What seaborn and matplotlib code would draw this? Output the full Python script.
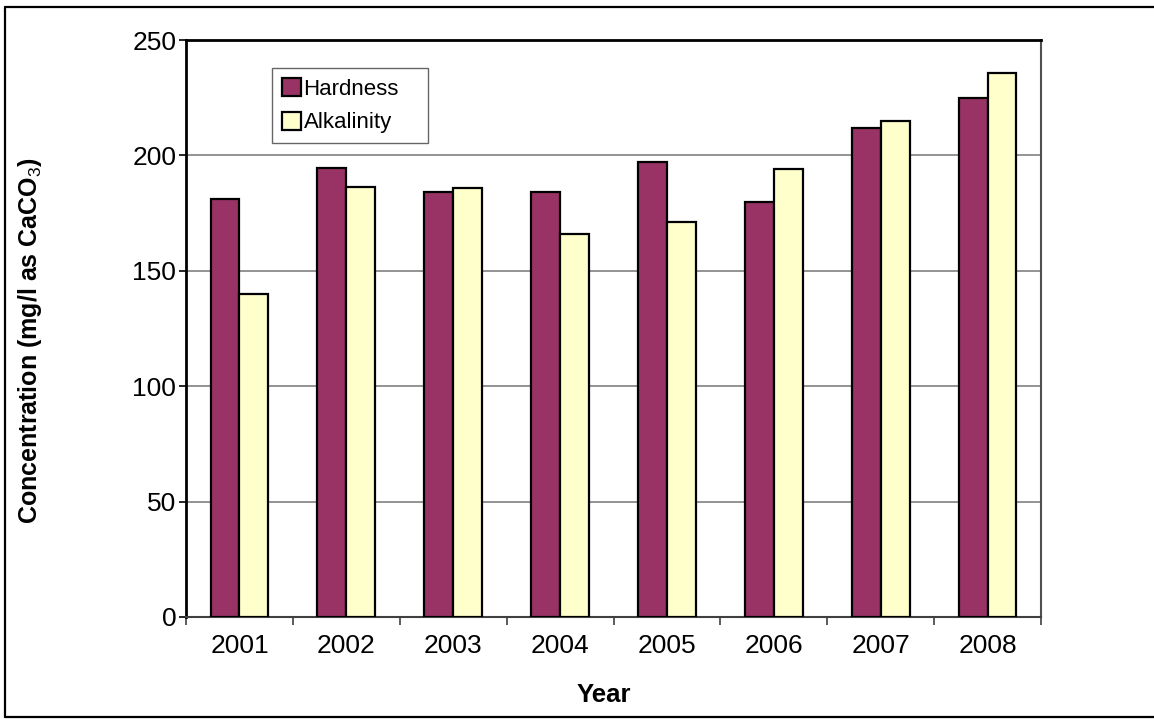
import matplotlib
matplotlib.use("Agg")
import matplotlib.pyplot as plt
from matplotlib.lines import Line2D
from matplotlib.ticker import FixedLocator, NullFormatter
import seaborn as sns
import pandas as pd

years = ["2001", "2002", "2003", "2004", "2005", "2006", "2007", "2008"]
hardness = [181, 194.5, 184, 184, 197, 180, 212, 225]
alkalinity = [140, 186.5, 186, 166, 171, 194, 215, 235.5]
series_names = ["Hardness", "Alkalinity"]
colors = ["#993366", "#FFFFCC"]
y_ticks = [0, 50, 100, 150, 200, 250]

df = pd.DataFrame({
    "Year": years * 2,
    "Value": hardness + alkalinity,
    "Series": [series_names[0]] * len(years) + [series_names[1]] * len(years),
})

sns.set_theme(style="white")
plt.rcParams["font.family"] = ["Liberation Sans", "DejaVu Sans"]
plt.rcParams["text.color"] = "black"
plt.rcParams["mathtext.fontset"] = "custom"
plt.rcParams["mathtext.rm"] = "Liberation Sans"
plt.rcParams["mathtext.bf"] = "Liberation Sans:bold"

fig = plt.figure(figsize=(11.54, 7.19), dpi=100)
ax = fig.add_axes([186 / 1154, 1 - 617 / 719, (1041 - 186) / 1154, (617 - 40) / 719])

sns.barplot(data=df, x="Year", y="Value", hue="Series", palette=colors,
            width=0.54, edgecolor="black", linewidth=1.6, saturation=1,
            ax=ax, zorder=3)

ax.set_xlim(-0.5, len(years) - 0.5)
ax.set_ylim(0, 250)
ax.set_yticks(y_ticks)
ax.set_yticklabels([str(t) for t in y_ticks], fontsize=19)
ax.grid(False)
for t in y_ticks[1:-1]:
    ax.axhline(t, color="#808080", linewidth=1.2, zorder=1)

ax.tick_params(axis="x", which="major", length=0, pad=12, labelsize=19, colors="black")
ax.xaxis.set_minor_locator(FixedLocator([i - 0.5 for i in range(len(years) + 1)]))
ax.xaxis.set_minor_formatter(NullFormatter())
ax.tick_params(axis="x", which="minor", length=6, width=1.2, direction="out", color="#404040", bottom=True)
ax.tick_params(axis="y", length=5, width=1.2, direction="out", color="black", left=True, pad=2, colors="black")

for side in ["left", "top"]:
    ax.spines[side].set_color("black")
    ax.spines[side].set_linewidth(2)
ax.spines["bottom"].set_color("#404040")
ax.spines["bottom"].set_linewidth(1.5)
ax.spines["right"].set_color("#505050")
ax.spines["right"].set_linewidth(1.5)

ax.set_xlabel("Year", fontsize=18.5, fontweight="bold", color="black")
ax.xaxis.set_label_coords((604 - 186) / 855, (617 - 683) / 577)
ax.set_ylabel(r"Concentration (mg/l as CaCO$_3$)", fontsize=18, fontweight="bold", color="black")
ax.yaxis.set_label_coords((44 - 186) / 855, (617 - 340) / 577)

handles, labels = ax.get_legend_handles_labels()
lx0 = (272 - 186) / 855
lw = (428 - 272) / 855
ltop = (617 - 68) / 577
lh = (141 - 68) / 577
leg = ax.legend(handles, labels, loc="upper left",
                bbox_to_anchor=(lx0, ltop - lh, lw, lh), mode="expand",
                fontsize=16, frameon=True, fancybox=False, shadow=False,
                handlelength=0.85, handleheight=0.85, handletextpad=0.12,
                labelspacing=0.55, borderpad=0.45, borderaxespad=0,
                labelcolor="black")
leg.get_frame().set_edgecolor("#404040")
leg.get_frame().set_linewidth(1.0)
leg.set_zorder(5)

# outer frame (left, top, bottom)
fx0 = 5 / 1154
fy_top = 1 - 7 / 719
fy_bot = 1 - 717 / 719
for xs, ys in [([fx0, fx0], [fy_bot, fy_top]), ([fx0, 1.0], [fy_top, fy_top]), ([fx0, 1.0], [fy_bot, fy_bot])]:
    fig.add_artist(Line2D(xs, ys, color="black", linewidth=1.6, transform=fig.transFigure))

fig.savefig("out.png", dpi=100, facecolor="white")
